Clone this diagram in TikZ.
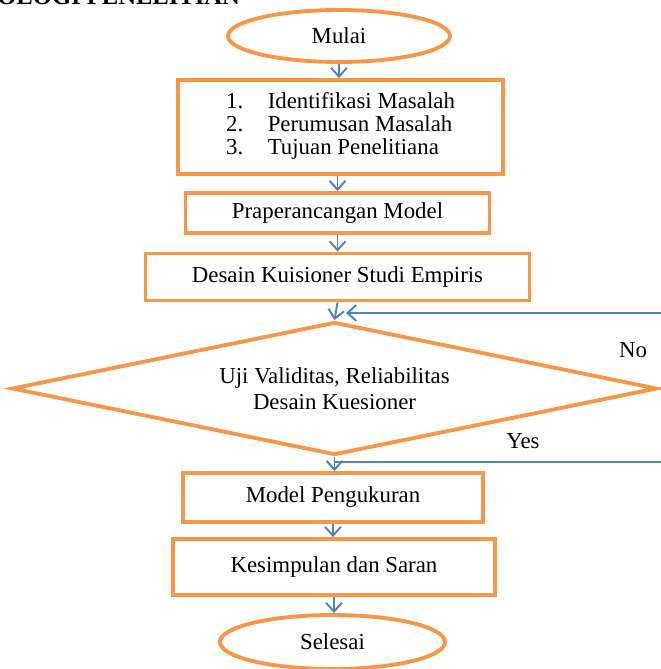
\documentclass[tikz,border=0pt]{standalone}
\usepackage{fontspec}
\setmainfont{Liberation Serif}
\usepackage{tikz}
\usetikzlibrary{shapes.geometric, arrows.meta}
\definecolor{boxorange}{RGB}{247,150,70}
\definecolor{lineblue}{RGB}{79,129,189}
\newdimen\pxu \pxu=0.02cm
\tikzstyle{startstop} = [ellipse, draw=boxorange, line width=2.2pt, inner sep=0pt, font=\fontsize{13}{15}\selectfont]
\tikzstyle{process} = [rectangle, draw=boxorange, line width=2.2pt, inner sep=0pt, font=\fontsize{13}{15}\selectfont]
\tikzstyle{decision} = [diamond, draw=boxorange, line width=2.2pt, inner sep=0pt, aspect=4.8, align=center, font=\fontsize{13}{15}\selectfont]
\tikzstyle{arrow} = [draw=lineblue, line width=1.1pt, -{Straight Barb[length=5pt,width=9pt]}]
\tikzstyle{link} = [draw=lineblue, line width=1.1pt]

\begin{document}
\begin{tikzpicture}[x=0.02cm, y=-0.02cm]
\useasboundingbox (0,0) rectangle (661,669);
\clip (0,0) rectangle (661,669);

% Heading, cut off at the top
\node [anchor=base west, inner sep=0pt, font=\fontsize{14}{16}\bfseries] (head) at (-3,5) {OLOGI PENELITIAN};

% Start
\node [startstop, minimum width=222\pxu, minimum height=52\pxu] (mulai) at (339,36) {Mulai};

% Steps
\node [process, minimum width=325\pxu, minimum height=94\pxu] (masalah) at (340.5,127) {\renewcommand{\arraystretch}{0.88}\begin{tabular}{@{}l@{\hspace{14pt}}l@{}}
1. & Identifikasi Masalah\\
2. & Perumusan Masalah\\
3. & Tujuan Penelitiana
\end{tabular}};
\node [process, minimum width=304\pxu, minimum height=40\pxu] (prarancang) at (337.5,213) {Praperancangan Model};
\node [process, minimum width=384\pxu, minimum height=47\pxu] (desain) at (337.5,277) {Desain Kuisioner Studi Empiris};

% Decision
\node [decision, minimum width=645\pxu, minimum height=133\pxu] (uji) at (334.5,388.5) {Uji Validitas, Reliabilitas\\Desain Kuesioner};

\node [process, minimum width=300\pxu, minimum height=49\pxu] (ukur) at (333,497.5) {Model Pengukuran};
\node [process, minimum width=322\pxu, minimum height=56\pxu] (simpul) at (334,567) {Kesimpulan dan Saran};

% End
\node [startstop, minimum width=225\pxu, minimum height=54\pxu] (selesai) at (332.5,642) {Selesai};

% Arrows
\draw [arrow] (mulai.south) -- (mulai.south |- masalah.north);
\draw [arrow] (prarancang.north |- masalah.south) -- (prarancang.north);
\draw [arrow] (prarancang.south) -- (desain.north -| prarancang.south);
\draw [arrow] (desain.south) -- (uji.north);
\draw [arrow] (uji.south) -- (uji.south |- ukur.north);
\draw [arrow] (ukur.south) -- (ukur.south |- simpul.north);
\draw [arrow] (simpul.south) -- (simpul.south |- selesai.north);

% No / Yes lines
\coordinate (noR) at (661,313);
\coordinate (noL) at (346,313);
\coordinate (yesR) at (661,462);
\coordinate (yesL) at (335,462);
\draw [arrow] (noR) -- (noL);
\draw [link] (yesL) -- (yesR);
\draw [draw=boxorange, line width=2.2pt] (uji.east) -- (661,388.5);

\node [font=\fontsize{13}{15}\selectfont] (no) at (633,350) {No};
\node [font=\fontsize{13}{15}\selectfont] (yes) at (523,441) {Yes};

\end{tikzpicture}
\end{document}
